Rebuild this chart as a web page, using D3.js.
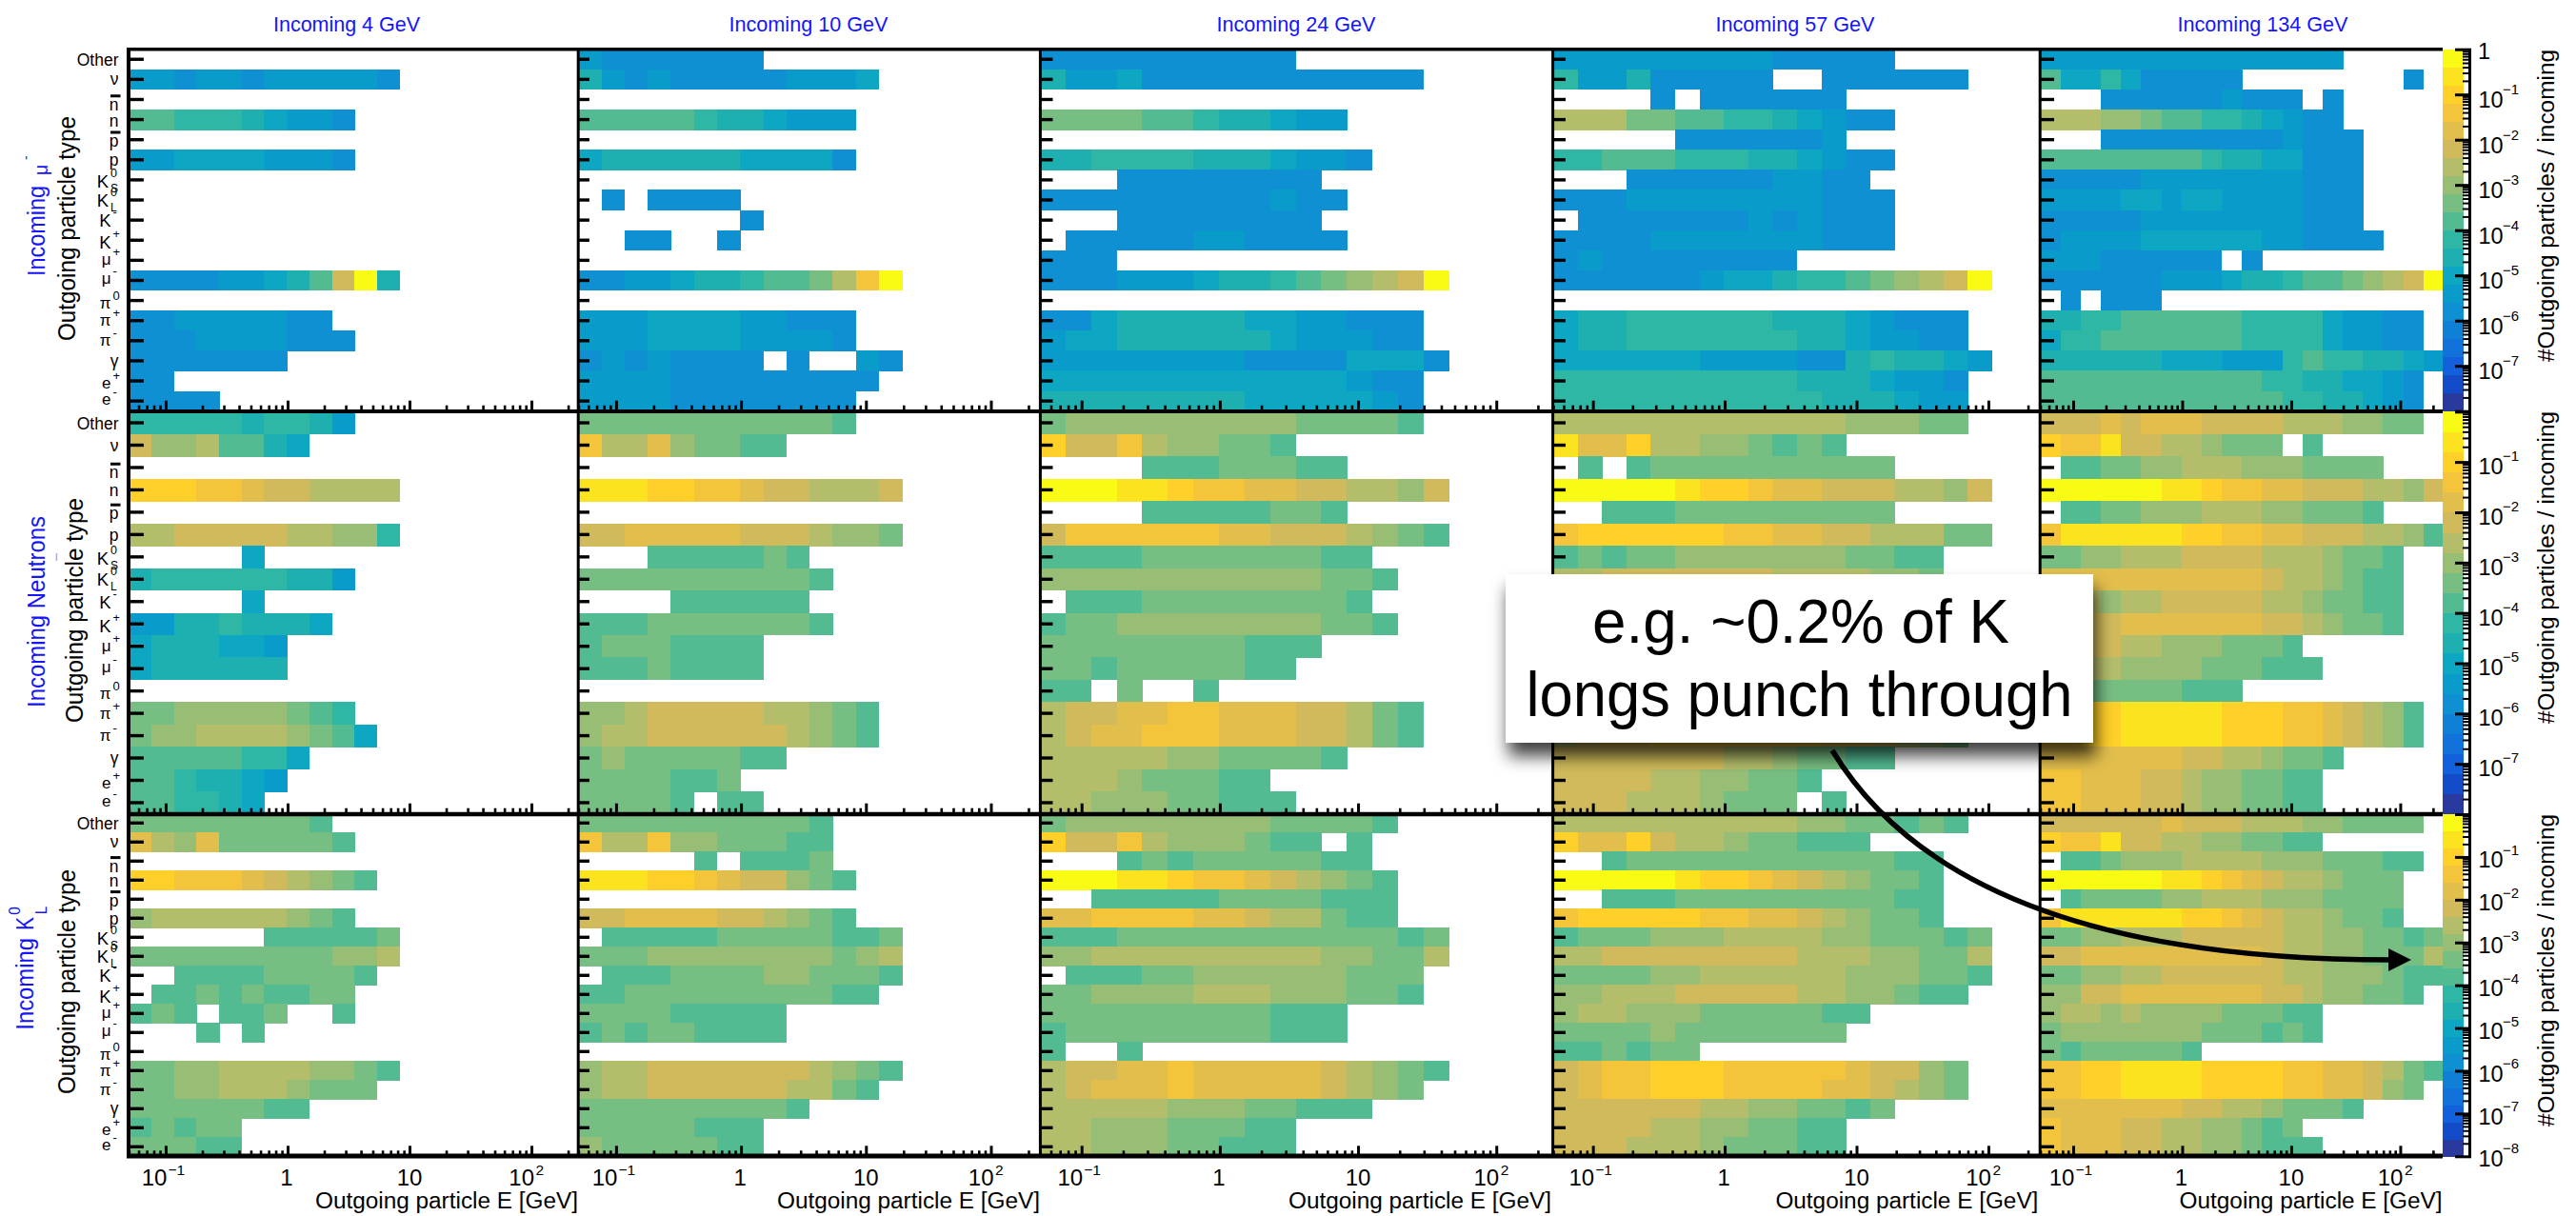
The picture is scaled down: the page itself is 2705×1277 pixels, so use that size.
<!DOCTYPE html>
<html><head><meta charset="utf-8">
<script src="https://cdn.jsdelivr.net/npm/d3@7"></script>
<style>html,body{margin:0;padding:0;background:#fff}svg{display:block}text{font-family:"Liberation Sans",Arial,sans-serif}</style>
</head><body><div id="c"></div>
<script>
// Outgoing particle types, top to bottom
const particles = ["Other","nu","nbar","n","pbar","p","K0S","K0L","K-","K+","mu+","mu-","pi0","pi+","pi-","gamma","e+","e-"];
const incomingEnergies = ["4","10","24","57","134"];
// One string per outgoing type, one char per energy bin: base-20 colour band (0=1e-8 ... j=1); '.' = empty
const mu_4 = ["","665665666665","","aa99987665","","6677776665","","","","","","55556678aej8","","556666655","5556666555","5555555","55","5555"];
const mu_10 = ["65555555","8656555556667","","aaaaa9887666","","788888877775","",".5.5555",".......5","..55..5","","55667889aabdgj","","666777766555","666777766665","56565555.5..65","6666555555555","666655555555"];
const mu_24 = ["5555555555","866755555555555","","bbbbaa988766","","8899998887665","...55555555","555555555655","...55555555",".55555665555","555","5556667889abcdej","","557888887766555","677888888766655","6666666655557775","777777777777655","888888887777765"];
const mu_57 = ["66666666655555","966855555..555555","....5.555555","dddbbaa9987655",".....5555556","99aaa999887655","...5555556655","55566666666555",".5555555656555","55556666666555","5655555555","555555677899abcdej","","78899999988876555","78899999998876655","777777666655898876","99999999998887665","99999999999888766"];
const mu_134 = ["666666666666666","a779755555........5","...5555556555.5","dddccbaa9987655","...5555555556555","aaaaaaaa98877555","5555566666666555","6666776776666555","5555566666666555","56666777777665555","666555555.5","5555556667889aabcdej",".5.555","8899aaaaaa999976655","799aaaaaaa999976655","8888887776669a998876","aaaaaaaaaaa99887765","aaaaaaaaaaaa9988765"];
const n_4 = ["9999989986","eccdaa87","","hhhggfeedddd","","ddeeeeeddcc9",".....7","8999999886",".....7","668898887","7888776","7888888","","bbcccccba9","bccddddcba7","aaaaa997","aa98876","aa9987"];
const n_10 = ["bbbbbbbbbbba","gddfcbbaa","","iiihhggfeeddde","","eefffffeeedccb","...aaaaaba","bbbbbbbbbba","....aaaaaa","aaabbbbbbba","abbbaaaa","aaabaaaa","","ccdeeeeeddcba","cddeeeeeedcba","bcbbbbbaa","bbbbaab","bbbba.aa"];
const n_24 = ["bcccccccccbbbba","heegdccbba","....aaabbbaa","jjjiihggffeeddce","....aaaaabba","eggggggffeeedcba","aaaabbbbbbbaa","cccccccccccbba",".aaabbbbbbbba","abbccccccccbba","bbbbbbbbaaa","bbabbbbbaa","aa.b..a","deeffggfffeedba","deffgggfffeedba","dddddccbbbba","dddcbbbaa","ddcccbbaaa"];
const n_57 = ["ddddddddddddcccbb","iffhddccbaba",".a.abbbbbbbbbb","jjjjjihhgffeeeddce","..aaabbbbbbbbb","ghhhhhhggffeedddbb","ababbcccccccbbaa","ddeeeeeeeddddccb","cdddeeeeeeddccba","cdeeeeeeeeddccba","cccccddddccbba","cccccdccccbba","bbabbba","deffgggggggfeedcb","deffgggggggffedcb","eeeeeeeddcbbaa","eeeeddccbba","eeedddcbbb.a"];
const n_134 = ["eeefefffeeeedddccbb","hggieeddcbbb.a",".aabbccdddcccbbbb","jjjjjjiihggffeeeddce",".aabbcccdddccbbba","giiiiiihhggffeeeddca","bbccdddeeeedddcbba","fffffffffffeddcbaa","dddcddeeeeeddcbbaa","eeeefffffffeedcbba","eeeeddcccbbba","ddddccccbbbaaa","bbbbbbbaaa","gghhiiiiihhhggfedca","gghhiiiiihhhggfedca","fffffffeeddcbba","ggfffeedccbbaa","ggfffeedccbbaa"];
const k_4 = ["bbbbbbbba","fdcfbbbbba","","hhgggfedcba","","cddddddcba","......aaaaab","bbbbbbbbbccd","..aaaabbbba",".aababaabb","aba.aab..a","...a.a","","bbccddddccba","bbccdddcbbb","bbbbbbaa","ababb","bbbaa"];
const k_10 = ["bbbbbbbbbba","gddgccbbbaa",".....a.aaab","iiihhgfeecba","","eeffffeedcba",".aaaaabbbbbaab","bbbccccccccbcd",".aaabbbbccbbba","aabbbbbbbbbaa","bbbbaaaaa","ababbaaaa","","cddeeeeeeedcba","cddeeeeeeddba","bbbbbbbbba","bbbbbaaa","cbbbbbaa"];
const k_24 = ["bccccccccbbbba","heegdcccbaa.a","...ababbbbbaa","jjjiihggfedcba","..aaaaabbbbaaa","ffggggffeddbaa","aaabbbbbbbbbbbab","ccdddddddddccbbd",".aaabbccccccbbb","bbccccdddcccbba","bbbbbbbbbaaa","abbbbbbbbaaa","a..a","deeffgfffffedcba","defffgfffffedcb","dddddcccbbaaa","ddcccbbbaa","ddcccbbaaa"];
const k_57 = ["ddddddddddccbbaba","hffheddcbbaaa","..abbbbbbbbbbbaa","jjjjjihhgfedcbba","..aaabbbbbbbbbaa","ghhhhhggffedcbba","abbbcccddddccbbbab","ddeeeeeeeedddccbbd","bbbbccddddddcccbba","ccdddeeeeeddccbaa","cddcccbbbbbaa","bbbbcbbbbbbb","aababb","efgghhhgggggfeecb","efgghhhggggffedcb","eeeeeeddccbbab","eeeeddccbbaa","eeedddcbbbaa"];
const k_134 = ["eeeeeefeeedddccbbbb","hggieeddccbbaa",".aabcccddddcccbbbaa","jjjjjjiihgfeddcbbb",".abbbbccdddcccbbbb","giiiiiihhgfeddcbba","bbccdddeeeeeddccbbab","eefffffffffeddccbbbd","bbccddeeeeeeddcccbaa","cceefffffffeedccbba","cddcdccccbbbaa","bcccccccbbbaba","babbbbba","gghhiiiihhhhggffedba","gghhiiiihhhhggffecb","fffffffeeddcbbba","gfffeeddccbab","gfffeeddccbaaa"];
const panelGrid = [[mu_4,mu_10,mu_24,mu_57,mu_134],[n_4,n_10,n_24,n_57,n_134],[k_4,k_10,k_24,k_57,k_134]];
// Colour bands, bottom (1e-8) to top (1)
const palette = ["#2A399E","#144BC9","#1360DC","#1272DC","#1080D7","#0E90D2","#099CCB","#0DA7C4","#1EAFB0","#2FB7A5","#53BB92","#76BE82","#98BE76","#B4BD6A","#D0BA5B","#E2BE4C","#F4C53B","#FFD02A","#FCE31F","#F9FB15"];
const nBins = 20, eMin = 0.05, eMax = 250;
const colEdges = [[135.4,609],[607.4,1092.7],[1092,1629],[1631,2143],[2142.5,2566]];
const rowEdges = [[51.7,431.7],[432.3,854.7],[854.3,1214.3]];
const yTickLen = [15.5,11.5,13.5,13,14.5];
const titleCx = [364,849,1361,1885,2376], titleW = [154,167,167,167,179];
const labelDy = [1,0,5.5,1,1.5,0.2,2,1,1,3,-1.2,-2.2,2.2,-0.5,-0.5,0,2,-2];

const svg = d3.select("#c").append("svg").attr("width",2705).attr("height",1277);
const defs = svg.append("defs");
const flt = defs.append("filter").attr("id","sh").attr("x","-10%").attr("y","-20%").attr("width","120%").attr("height","150%");
flt.append("feDropShadow").attr("dx",3).attr("dy",14).attr("stdDeviation",9).attr("flood-color","#000").attr("flood-opacity",0.75);

const color = d3.scaleQuantize().domain([-8,0]).range(palette);
const levelValue = c => -8 + (parseInt(c,20)+0.5)*8/palette.length;
const binEdges = d3.range(nBins+1).map(k => eMin*Math.pow(eMax/eMin,k/nBins));
const decades = [0.01,0.1,1,10,100];
const major = [0.1,1,10,100];
const minor = decades.flatMap(d => d3.range(2,10).map(m => m*d)).filter(v => v>=eMin && v<=eMax);

function txt(parent,s,x,y,size,anchor,fill,len){
  const t = parent.append("text").attr("x",x).attr("y",y).attr("font-size",size).attr("text-anchor",anchor||"start").attr("fill",fill||"#000").text(s);
  if(len) t.attr("textLength",len).attr("lengthAdjust","spacingAndGlyphs");
  return t;
}
function rot(x,y,sy){return svg.append("g").attr("transform",`translate(${x},${y}) rotate(-90) scale(1,${sy||1})`);}

// Heat-map cells
panelGrid.forEach((row,ri)=>{
  const y = d3.scaleBand().domain(particles).range(rowEdges[ri]);
  row.forEach((rowsData,ci)=>{
    const x = d3.scaleLog().domain([eMin,eMax]).range(colEdges[ci]);
    const cells = [];
    rowsData.forEach((s,pi)=>{
      s.padEnd(nBins,".").split("").forEach((c,b)=>{ if(c!==".") cells.push({p:particles[pi],b,v:levelValue(c)}); });
    });
    svg.append("g").selectAll("rect").data(cells).join("rect")
      .attr("x",d=>x(binEdges[d.b])).attr("width",d=>x(binEdges[d.b+1])-x(binEdges[d.b])+0.4)
      .attr("y",d=>y(d.p)).attr("height",y.bandwidth()+0.4)
      .attr("fill",d=>color(d.v)).attr("shape-rendering","crispEdges");
  });
});

// Axes and frames
panelGrid.forEach((row,ri)=>{
  const yb = rowEdges[ri][1];
  const y = d3.scaleBand().domain(particles).range(rowEdges[ri]);
  row.forEach((_,ci)=>{
    const x = d3.scaleLog().domain([eMin,eMax]).range(colEdges[ci]);
    const gx = svg.append("g").attr("transform",`translate(0,${yb})`);
    gx.call(d3.axisBottom(x).tickValues(major).tickSize(-11).tickFormat(""));
    gx.selectAll("line").attr("stroke","#000").attr("stroke-width",3);
    const gm = svg.append("g").attr("transform",`translate(0,${yb})`);
    gm.call(d3.axisBottom(x).tickValues(minor).tickSize(-6).tickFormat(""));
    gm.selectAll("line").attr("stroke","#000").attr("stroke-width",2.6);
    gx.select(".domain").remove(); gm.select(".domain").remove();
    const gy = svg.append("g").attr("transform",`translate(${colEdges[ci][0]},0)`);
    gy.call(d3.axisLeft(y).tickSize(-yTickLen[ci]).tickFormat(""));
    gy.selectAll("line").attr("stroke","#000").attr("stroke-width",3.4);
    gy.select(".domain").remove();
  });
});
const vLines = [[135,4],[607.2,3],[1092.4,3],[1630.6,3],[2142.2,3]];
vLines.forEach(([vx,w])=> svg.append("line").attr("x1",vx).attr("x2",vx).attr("y1",50).attr("y2",1216).attr("stroke","#000").attr("stroke-width",w));
[[51.7,3.5],[432,4],[855,4.4],[1214,5]].forEach(([hy,w])=> svg.append("line").attr("x1",133).attr("x2",2565).attr("y1",hy).attr("y2",hy).attr("stroke","#000").attr("stroke-width",w));

// Column titles
incomingEnergies.forEach((e,i)=> txt(svg,`Incoming ${e} GeV`,titleCx[i],32.5,22,"middle","#1414ff",titleW[i]));

// Outgoing-type labels
function yLabels(ri){
  const y = d3.scaleBand().domain(particles).range(rowEdges[ri]);
  const g = svg.append("g");
  const defsL = {"Other":["Other"],"nu":["ν"],"nbar":["n",null,null,1],"n":["n"],"pbar":["p",null,null,1],"p":["p"],
    "K0S":["K","0","S"],"K0L":["K","0","L"],"K-":["K","-"],"K+":["K","+"],"mu+":["μ","+"],"mu-":["μ","-"],"pi0":["π","0"],"pi+":["π","+"],"pi-":["π","-"],"gamma":["γ"],"e+":["e","+"],"e-":["e","-"]};
  particles.forEach((p,i)=>{
    const [m,sup,sub,bar] = defsL[p];
    const cy = y(p)+y.bandwidth()/2+labelDy[i];
    const base = cy+6;
    const big = m==="K";
    if(sup||sub){
      const right = sub ? 114 : 116.5;
      txt(g,m,right,base,big?18.5:17,"end");
      if(sup) txt(g,sup,right+2,base-(big?11:9),big?12.5:13,"start");
      if(sub) txt(g,sub,right+2,base+5,12,"start");
    } else {
      txt(g,m,124.5,base,17.5,"end");
    }
    if(bar) g.append("rect").attr("x",116).attr("width",10.5).attr("y",cy-10.7).attr("height",3).attr("fill","#000");
  });
}
[0,1,2].forEach(yLabels);

// Left titles
[[79,358],[87,759],[79,1149]].forEach(([bx,by])=>{
  txt(rot(bx,by,1.1),"Outgoing particle type",0,0,24,"start","#000",236);
});
(()=>{ const g = rot(46.7,290,1.05);
  txt(g,"Incoming",0,0,24,"start","#1414ff",95);
  txt(g,"μ",106,3,19.5,"start","#1414ff");
  txt(g,"-",122,-14,14,"start","#1414ff"); })();
txt(rot(46.7,743,1.05),"Incoming Neutrons",0,0,24,"start","#1414ff",201);
svg.append("rect").attr("x",58.6).attr("y",581).attr("width",1.6).attr("height",8).attr("fill","#a9a9ff");
(()=>{ const g = rot(35,1081.7,1.05);
  txt(g,"Incoming",0,0,24,"start","#1414ff",96.7);
  txt(g,"K",104.7,0,24,"start","#1414ff",14);
  txt(g,"0",121,-13,15.5,"start","#1414ff");
  txt(g,"L",121.5,13.5,15.5,"start","#1414ff"); })();

// X tick labels and titles
colEdges.forEach((ce,ci)=>{
  const x = d3.scaleLog().domain([eMin,eMax]).range(ce);
  txt(svg,"10",x(0.1)+1.5,1245,24,"end"); txt(svg,"\u22121",x(0.1)+2.5,1234,15.5,"start");
  txt(svg,"1",x(1)-1,1245,24,"middle");
  txt(svg,"10",x(10),1245,24,"middle");
  txt(svg,"10",x(100)+3,1245,24,"end"); txt(svg,"2",x(100)+4.5,1234,15.5,"start");
  txt(svg,"Outgoing particle E [GeV]",[607,1092,1629,2140.4,2564.6][ci],1269,23,"end","#000",276);
});

// Colour bars
const cbarOffs = [[14,0],[13,-1],[11.5,-2]];
rowEdges.forEach((re,ri)=>{
  const [top,bot] = [[51.7,431.7],[432.3,855],[855,1214.3]][ri];
  const cy = d3.scaleLog().domain([1e-8,1]).range([bot,top]);
  const bands = d3.range(palette.length);
  svg.append("g").selectAll("rect").data(bands).join("rect")
    .attr("x",2564.5).attr("width",22)
    .attr("y",i=>cy(Math.pow(10,-8+(i+1)*0.4))).attr("height",i=>cy(Math.pow(10,-8+i*0.4))-cy(Math.pow(10,-8+(i+1)*0.4))+0.5)
    .attr("fill",i=>palette[i]).attr("shape-rendering","crispEdges");
  const mj = d3.range(-8,1).map(k=>Math.pow(10,k));
  const mn = d3.range(-8,0).flatMap(k=>d3.range(2,10).map(m=>m*Math.pow(10,k)));
  const a1 = svg.append("g").attr("transform","translate(2595,0)").call(d3.axisLeft(cy).tickValues(mj).tickSize(17).tickFormat(""));
  a1.selectAll("line").attr("stroke","#000").attr("stroke-width",3);
  const a2 = svg.append("g").attr("transform","translate(2595,0)").call(d3.axisLeft(cy).tickValues(mn).tickSize(9).tickFormat(""));
  a2.selectAll("line").attr("stroke","#000").attr("stroke-width",2);
  a1.select(".domain").remove(); a2.select(".domain").remove();
  svg.append("line").attr("x1",2593.5).attr("x2",2593.5).attr("y1",top).attr("y2",bot).attr("stroke","#000").attr("stroke-width",3);
  const [o10,oSup] = cbarOffs[ri];
  d3.range(-7,0).forEach(k=>{
    const t = cy(Math.pow(10,k));
    txt(svg,"10",2602.5,t+o10,23.5,"start"); txt(svg,"\u2212"+(-k),2628,t+oSup,15,"start");
  });
  if(ri===0) txt(svg,"1",2608.5,cy(1)+10,23.5,"middle");
  if(ri===2){ const t = cy(1e-8); txt(svg,"10",2602.5,t+11,23.5,"start"); txt(svg,"\u22128",2628,t-3,15,"start"); }
  txt(rot(2682,[380,760,1183][ri],1.0),"#Outgoing particles / incoming",0,0,23,"start","#000",328);
});

// Callout
svg.append("rect").attr("x",1581).attr("y",603).attr("width",617).attr("height",177).attr("fill","#fff").attr("filter","url(#sh)");
txt(svg,"e.g. ~0.2% of K",1672,675,65,"start","#000",438);
txt(svg,"longs punch through",1602.5,752,66,"start","#000",574);
svg.append("path").attr("d","M1924,788 C2010,930 2200,1008 2510,1008").attr("fill","none").attr("stroke","#000").attr("stroke-width",5.5);
svg.append("path").attr("d","M2508,996 L2532,1008 L2508,1020 Z").attr("fill","#000");
</script></body></html>
